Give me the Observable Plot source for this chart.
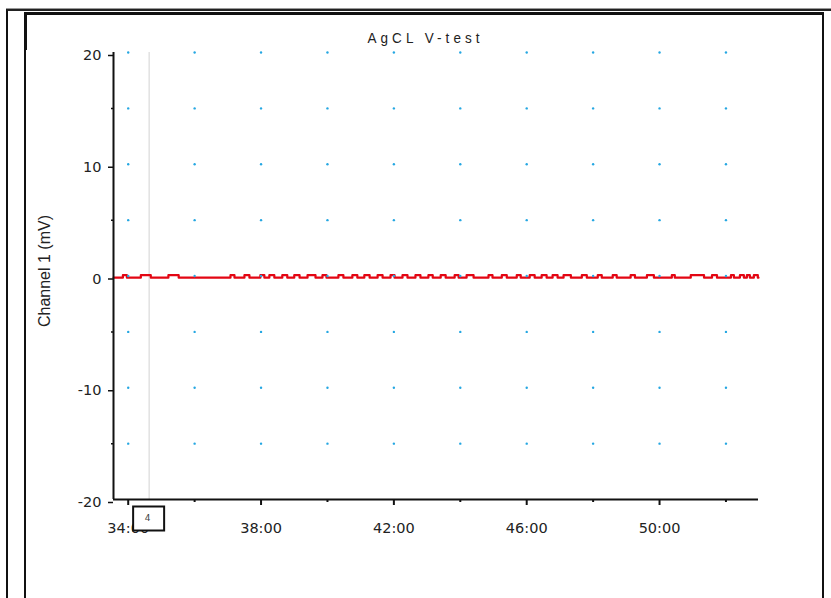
<!DOCTYPE html>
<html>
<head>
<meta charset="utf-8">
<script src="https://cdn.jsdelivr.net/npm/d3@7"></script>
<script src="https://cdn.jsdelivr.net/npm/@observablehq/plot@0.6"></script>
<style>
  html, body { margin: 0; padding: 0; background: #fff; }
  #wrap { position: relative; width: 831px; height: 598px; overflow: hidden; background: #fff; }
  .frame { position: absolute; box-sizing: border-box; }
  #title { position: absolute; left: 24px; width: 799px; top: 30px; text-align: center;
           font-family: "Liberation Sans Narrow", "Liberation Sans", Arial, sans-serif; font-size: 15px;
           line-height: 15px; letter-spacing: 4.5px; padding-left: 4.5px; box-sizing: border-box; color: #222;
           transform: scaleX(0.9); }
  #ylabel { position: absolute; left: 45px; top: 271px; transform: translate(-50%, -50%) rotate(-90deg);
            white-space: nowrap; font-family: "Liberation Sans", Arial, sans-serif; font-size: 16px; color: #222; }
  #chart { position: absolute; left: 0; top: 0; }
</style>
</head>
<body>
<div id="wrap">
  <div class="frame" style="left:6px; top:8px; width:900px; height:700px; border-top:1px solid #999;"></div>
  <div class="frame" style="left:6px; top:9px; width:900px; height:700px; border-top:2px solid #222; border-left:2px solid #111;"></div>
  <div class="frame" style="left:24px; top:12px; width:800px; height:700px; border-top:3px solid #111; border-left:2px solid #111; border-right:2px solid #111;"></div>
  <div class="frame" style="left:24px; top:12px; width:3px; height:38px; background:#111;"></div>
  <div id="title">AgCL V-test</div>
  <div id="ylabel">Channel 1 (mV)</div>
  <div id="chart"></div>
</div>
<script>
// ---- data ----
// time in minutes, channel 1 in mV (step series)
const timeMin = [33.56,
  33.84, 33.96, 34.38, 34.68, 35.21, 35.52, 37.08, 37.20, 37.50, 37.65,
  37.98, 38.10, 38.25, 38.40, 38.64, 38.79, 39.00, 39.16, 39.40, 39.64,
  39.85, 39.97, 40.33, 40.48, 40.75, 40.90, 41.11, 41.27, 41.51, 41.66,
  41.90, 42.02, 42.26, 42.41, 42.65, 42.80, 43.04, 43.17, 43.41, 43.56,
  43.83, 43.95, 44.19, 44.40, 44.85, 44.97, 45.25, 45.40, 45.70, 45.82,
  46.09, 46.24, 46.45, 46.60, 46.78, 46.93, 47.11, 47.33, 47.66, 47.81,
  48.14, 48.26, 48.59, 48.71, 49.13, 49.26, 49.62, 49.83, 50.37, 50.46,
  50.94, 51.34, 51.58, 51.73, 52.15, 52.24, 52.42, 52.54, 52.63, 52.72,
  52.84, 52.96,
  52.98];
const channel1 = [-0.15,
  0.07, -0.15, 0.07, -0.15, 0.07, -0.15, 0.07, -0.15, 0.07, -0.15,
  0.07, -0.15, 0.07, -0.15, 0.07, -0.15, 0.07, -0.15, 0.07, -0.15,
  0.07, -0.15, 0.07, -0.15, 0.07, -0.15, 0.07, -0.15, 0.07, -0.15,
  0.07, -0.15, 0.07, -0.15, 0.07, -0.15, 0.07, -0.15, 0.07, -0.15,
  0.07, -0.15, 0.07, -0.15, 0.07, -0.15, 0.07, -0.15, 0.07, -0.15,
  0.07, -0.15, 0.07, -0.15, 0.07, -0.15, 0.07, -0.15, 0.07, -0.15,
  0.07, -0.15, 0.07, -0.15, 0.07, -0.15, 0.07, -0.15, 0.07, -0.15,
  0.07, -0.15, 0.07, -0.15, 0.07, -0.15, 0.07, -0.15, 0.07, -0.15,
  0.07, -0.15,
  -0.15];
const xDomain = [33.557, 52.98];
const yDomain = [-20, 20];
const xMajorTicks = [34, 38, 42, 46, 50];
const xMinorTicks = [36, 40, 44, 48, 52];
const yMajorTicks = [-20, -10, 0, 10, 20];
const yMinorTicks = [-15, -5, 5, 15];
const gridX = [34, 36, 38, 40, 42, 44, 46, 48, 50, 52];
const gridY = [-15, -10, -5, 0, 5, 10, 15, 20];
const markerTime = [34.63];
const markerLabel = ["4"];

const series = timeMin.map((t, i) => ({t, v: channel1[i]}));
const grid = d3.cross(gridX, gridY).map(([x, y]) => ({x, y}));

const boxMark = (index, scales, values, dimensions) => {
  const g = d3.create("svg:g");
  const y0 = scales.y(yDomain[0]);
  markerTime.forEach((t, i) => {
    const cx = scales.x(t);
    g.append("rect").attr("x", cx - 15.5).attr("y", y0 + 7.5).attr("width", 31).attr("height", 24)
      .attr("fill", "white").attr("stroke", "#111").attr("stroke-width", 2);
    g.append("text").attr("x", cx - 1).attr("y", y0 + 19.5).attr("text-anchor", "middle")
      .attr("dominant-baseline", "middle").attr("font-size", 9).attr("fill", "#444")
      .attr("font-family", "DejaVu Sans, sans-serif").text(markerLabel[i]);
  });
  return g.node();
};

const fmtY = v => (v < 0 ? "-" + Math.abs(v) : String(v));
const axisFont = {fontFamily: "DejaVu Sans, sans-serif", fontSize: 14.5, fill: "#222"};

const chart = Plot.plot({
  width: 831,
  height: 598,
  marginLeft: 113,
  marginRight: 73,
  marginTop: 52,
  marginBottom: 99,
  style: {background: "transparent", fontFamily: "DejaVu Sans, sans-serif", overflow: "visible"},
  x: {domain: xDomain, axis: null},
  y: {domain: yDomain, axis: null},
  marks: [
    Plot.ruleX(markerTime, {stroke: "#d2d2d2", strokeWidth: 1}),
    Plot.line(series, {x: "t", y: "v", curve: "step-after", stroke: "#e30613", strokeWidth: 2.2}),
    Plot.dot(grid, {x: "x", y: "y", r: 1.2, fill: "#25a7e2", stroke: null}),
    Plot.ruleX([xDomain[0]], {stroke: "#111", strokeWidth: 2}),
    Plot.ruleY([yDomain[0]], {stroke: "#111", strokeWidth: 2}),
    Plot.axisX({ticks: xMajorTicks, tickSize: 6, tickPadding: 17, strokeWidth: 2, stroke: "#111",
      tickFormat: m => `${m}:00`, ...axisFont, label: null}),
    Plot.axisX({ticks: xMinorTicks, tickSize: 3, strokeWidth: 2, stroke: "#111",
      tickFormat: () => "", label: null}),
    Plot.axisY({ticks: yMajorTicks, tickSize: 5, tickPadding: 7, strokeWidth: 1.5, stroke: "#111",
      tickFormat: fmtY, dy: 3, ...axisFont, label: null}),
    Plot.axisY({ticks: yMinorTicks, tickSize: 2, strokeWidth: 1.5, stroke: "#111",
      tickFormat: () => "", label: null}),
    boxMark
  ]
});
document.getElementById("chart").appendChild(chart);
</script>
</body>
</html>
